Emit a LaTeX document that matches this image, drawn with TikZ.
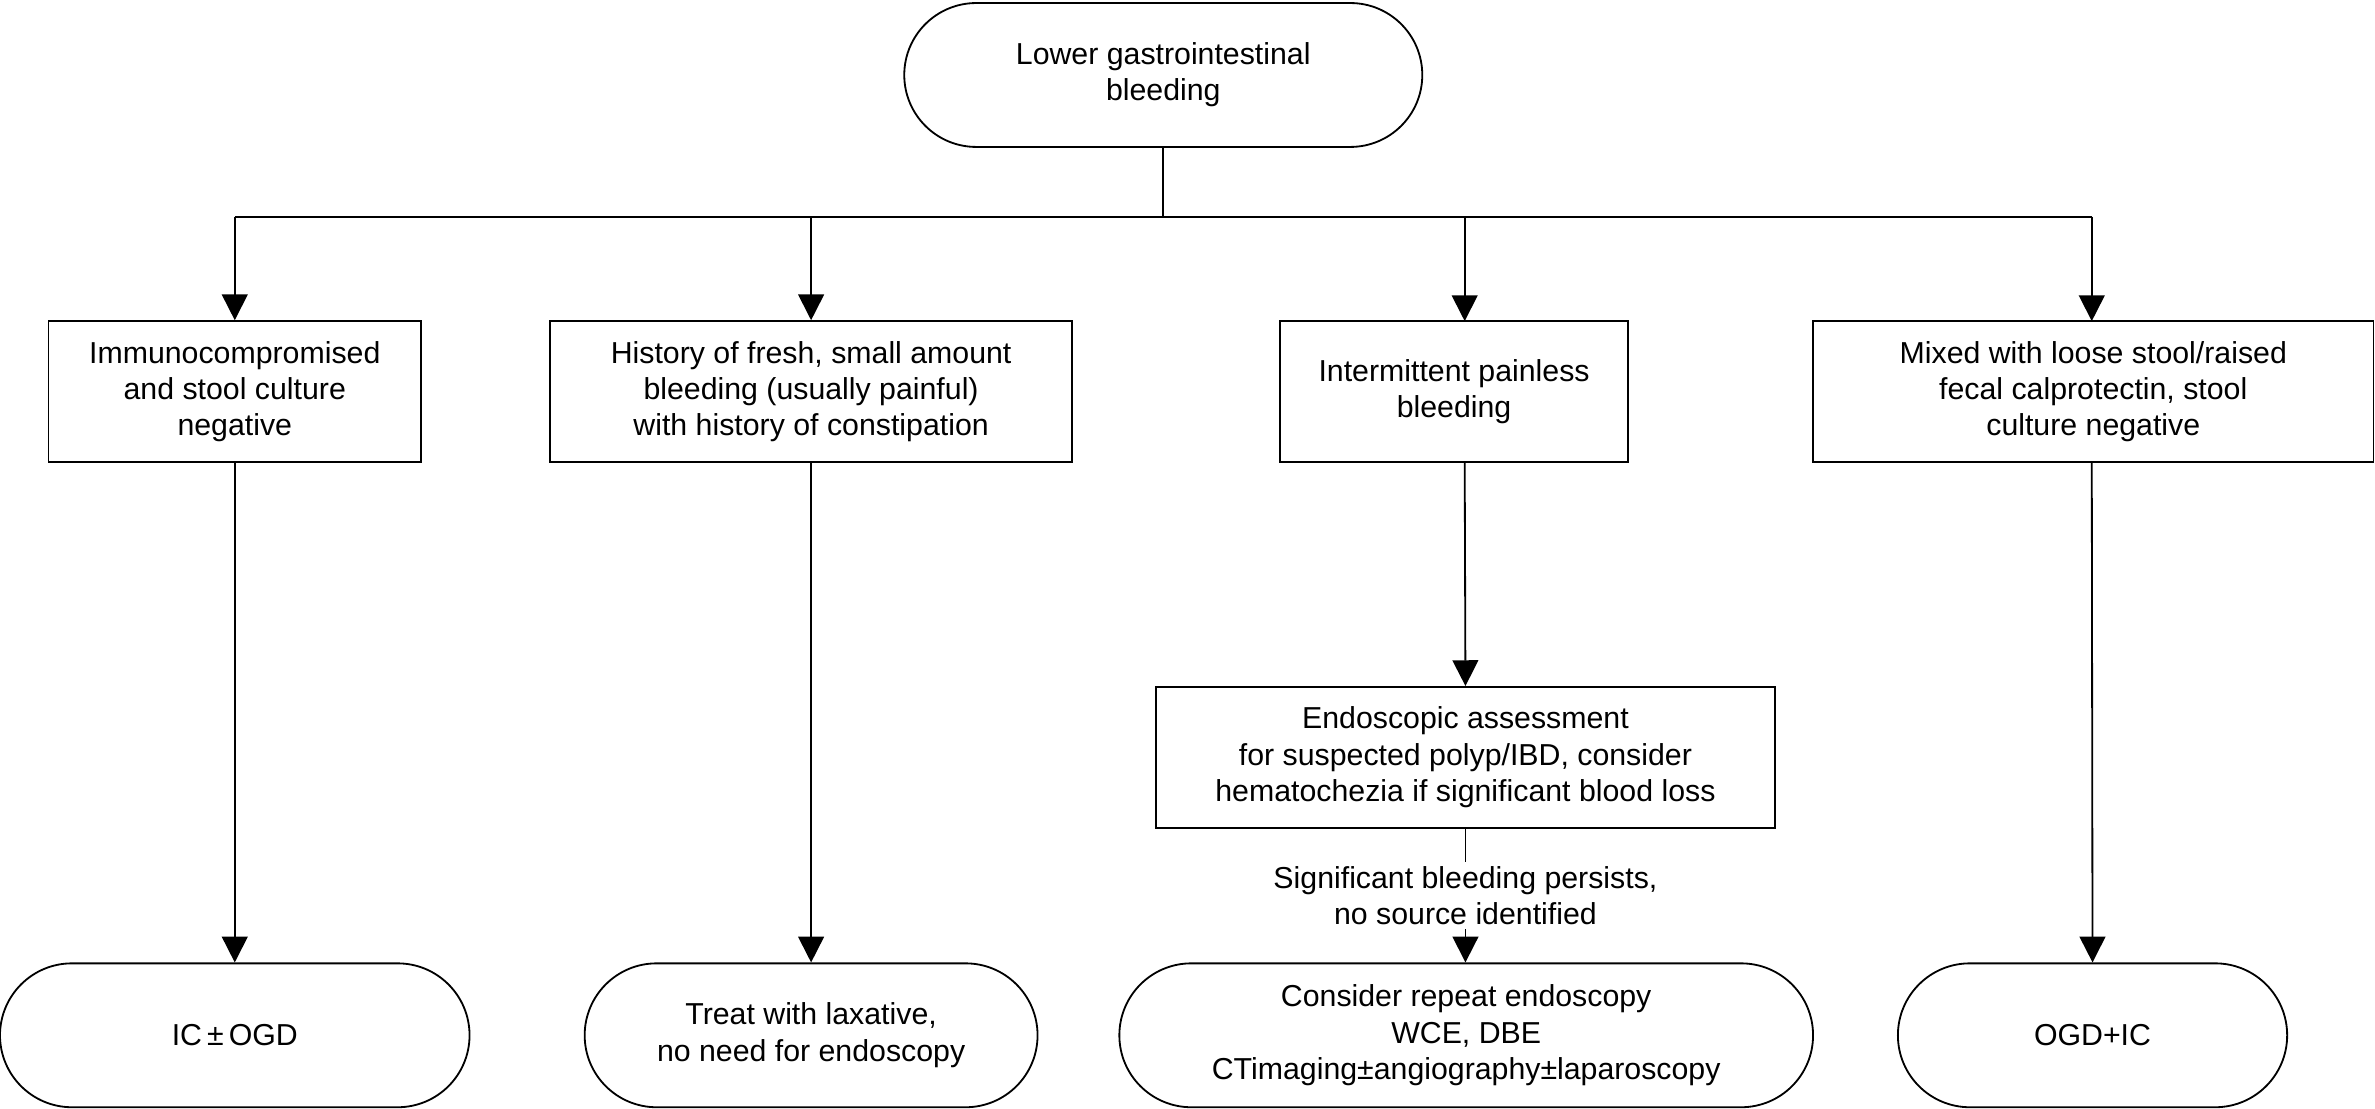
\documentclass[tikz,border=0pt]{standalone}
\usepackage{fontspec}
\setmainfont{Liberation Sans}
\usetikzlibrary{arrows.meta,shapes.misc}
\begin{document}
\begin{tikzpicture}[x=1pt,y=-1pt,
  every node/.style={font=\fontsize{20}{24}\selectfont, align=center, inner sep=0pt},
  box/.style={draw, line width=1.2pt, minimum height=93pt},
  pill/.style={draw, line width=1.2pt, rounded rectangle, minimum height=95pt},
  arr/.style={line width=1.2pt, -{Triangle[width=17pt,length=17pt]}},
  ln/.style={line width=1.2pt}]
\useasboundingbox (0,0) rectangle (1568,732);
\node[pill, minimum width=342pt] (top) at (768,49.5) {Lower gastrointestinal\\bleeding};
\node[box, minimum width=246pt] (b1) at (155,258.5) {Immunocompromised\\and stool culture\\negative};
\node[box, minimum width=345pt] (b2) at (535.5,258.5) {History of fresh, small amount\\bleeding (usually painful)\\with history of constipation};
\node[box, minimum width=230pt] (b3) at (960,258.5) {Intermittent painless\\bleeding};
\node[box, minimum width=370pt] (b4) at (1382,258.5) {Mixed with loose stool/raised\\fecal calprotectin, stool\\culture negative};
\node[box, minimum width=409pt] (b5) at (967.5,500) {Endoscopic assessment\\for suspected polyp/IBD, consider\\hematochezia if significant blood loss};
\node[pill, minimum width=310pt] (p1) at (155,683.5) {IC\,±\,OGD};
\node[pill, minimum width=299pt] (p2) at (535.5,683.5) {Treat with laxative,\\no need for endoscopy};
\node[pill, minimum width=458pt] (p3) at (968,683.5) {Consider repeat endoscopy\\WCE, DBE\\CTimaging±angiography±laparoscopy};
\node[pill, minimum width=257pt] (p4) at (1381.5,683.5) {OGD+IC};
\coordinate (j) at (768,143);
\coordinate (l) at (155,143);
\coordinate (r) at (1381,143);
\draw[ln] (top.south) -- (j);
\draw[ln] (l) -- (r);
\draw[arr] (l) -- (b1.north);
\draw[arr] (535.5,143) -- (b2.north);
\draw[arr] (967,143) -- (967,212);
\draw[arr] (1381,143) -- (1381,212);
\draw[arr] (b1.south) -- (p1.north);
\draw[arr] (b2.south) -- (p2.north);
\draw[arr] (967,305) -- (b5.north);
\draw[arr] (1381,305) -- (p4.north);
\draw[arr] (b5.south) -- node[fill=white, inner sep=3pt] {Significant bleeding persists,\\no source identified} (b5.south |- p3.north);
\end{tikzpicture}
\end{document}
